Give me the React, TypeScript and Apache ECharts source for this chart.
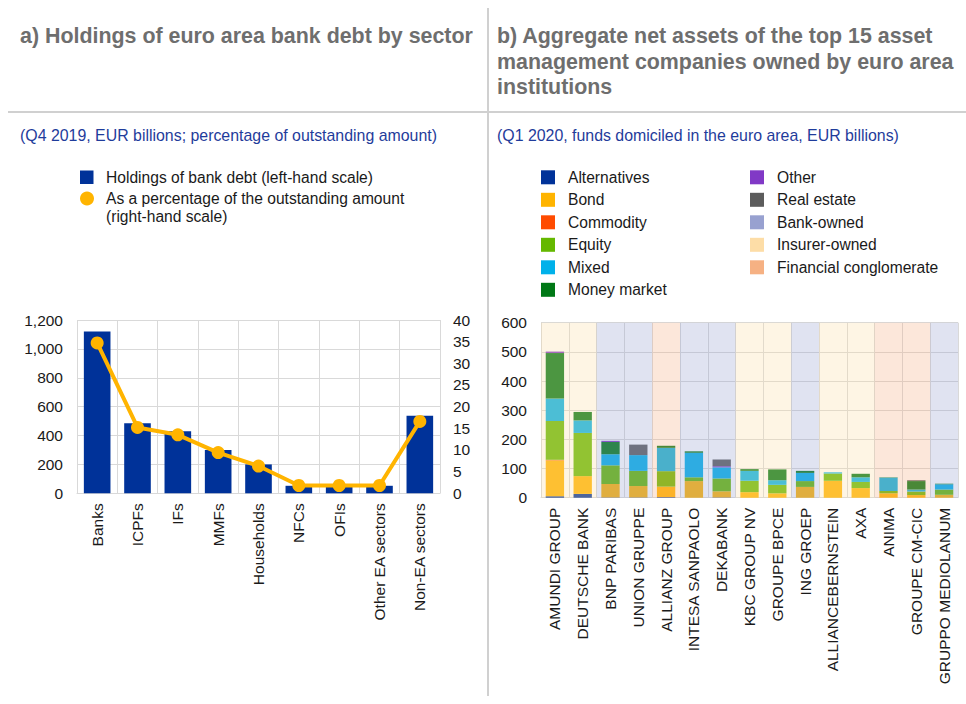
import React, { useEffect, useRef } from 'react';
import * as echarts from 'echarts';

const FONT = 'Liberation Sans, Arial, Helvetica, sans-serif';

// ---- Chart a) ----
const sectors = ['Banks', 'ICPFs', 'IFs', 'MMFs', 'Households', 'NFCs', 'OFIs', 'Other EA sectors', 'Non-EA sectors'];
const holdings = [1120, 485, 430, 300, 200, 52, 45, 52, 537];
const holdingsPct = [34.7, 15.2, 13.5, 9.4, 6.3, 1.8, 1.8, 1.8, 16.6];
const leftAxisMax = 1200;
const leftAxisStep = 200;
const pctAxisMax = 40;
const pctAxisStep = 5;

// ---- Chart b) ----
const companies = [
  'AMUNDI GROUP', 'DEUTSCHE BANK', 'BNP PARIBAS', 'UNION GRUPPE', 'ALLIANZ GROUP',
  'INTESA SANPAOLO', 'DEKABANK', 'KBC GROUP NV', 'GROUPE BPCE', 'ING GROEP',
  'ALLIANCEBERNSTEIN', 'AXA', 'ANIMA', 'GROUPE CM-CIC', 'GRUPPO MEDIOLANUM',
];
const alternatives = [5, 13, 1, 1, 2, 0, 1, 0, 0, 0, 0, 0, 0, 0, 0];
const bond = [123, 61, 46, 39, 36, 57, 21, 19, 15, 37, 58, 33, 15, 9, 10];
const commodity = [2, 0, 0, 0, 0, 0, 0, 0, 0, 0, 0, 0, 0, 0, 0];
const equity = [133, 148, 64, 52, 53, 13, 44, 39, 29, 20, 25, 21, 8, 12, 18];
const mixed = [77, 43, 38, 54, 80, 84, 38, 34, 16, 28, 4, 16, 46, 7, 18];
const moneyMarket = [156, 29, 42, 0, 7, 5, 0, 6, 37, 7, 0, 12, 1, 29, 2];
const other = [5, 0, 4, 0, 0, 0, 4, 0, 0, 0, 0, 0, 0, 0, 0];
const realEstate = [0, 0, 0, 36, 0, 0, 23, 0, 0, 0, 0, 0, 0, 3, 0];
const owner = [
  'Insurer-owned', 'Insurer-owned', 'Bank-owned', 'Bank-owned', 'Financial conglomerate',
  'Bank-owned', 'Bank-owned', 'Insurer-owned', 'Insurer-owned', 'Bank-owned',
  'Insurer-owned', 'Insurer-owned', 'Financial conglomerate', 'Financial conglomerate', 'Bank-owned',
];
const rightAxisMax = 600;
const rightAxisStep = 100;

const fundTypes = [
  { name: 'Alternatives', data: alternatives, color: '#003299' },
  { name: 'Bond', data: bond, color: '#FFB400' },
  { name: 'Commodity', data: commodity, color: '#FF4B00' },
  { name: 'Equity', data: equity, color: '#65B800' },
  { name: 'Mixed', data: mixed, color: '#00B1EA' },
  { name: 'Money market', data: moneyMarket, color: '#007816' },
  { name: 'Other', data: other, color: '#8139C6' },
  { name: 'Real estate', data: realEstate, color: '#5C5C5C' },
];
const ownerTypes = [
  { name: 'Bank-owned', color: '#98A1D0' },
  { name: 'Insurer-owned', color: '#FDDDA7' },
  { name: 'Financial conglomerate', color: '#F6B183' },
];

const GRID = '#D9D9D9';
const TXT = '#1a1a1a';

function txt(text: string, x: number, y: number, size: number, fill: string, weight = 'normal') {
  return {
    type: 'text',
    x,
    y,
    silent: true,
    style: { text, fill, fontSize: size, fontWeight: weight, fontFamily: FONT, verticalAlign: 'middle', align: 'left' },
  };
}

function buildOption() {
  const graphic: any[] = [];
  // dividers
  graphic.push({ type: 'line', silent: true, shape: { x1: 488, y1: 8, x2: 488, y2: 696 }, style: { stroke: '#D0D0D0', lineWidth: 2 } });
  graphic.push({ type: 'line', silent: true, shape: { x1: 8, y1: 112, x2: 966, y2: 112 }, style: { stroke: '#D0D0D0', lineWidth: 2 } });
  // titles
  graphic.push(txt('a) Holdings of euro area bank debt by sector', 20, 36, 21.4, '#6E6E6E', 'bold'));
  graphic.push(txt('b) Aggregate net assets of the top 15 asset', 497, 36, 21.4, '#6E6E6E', 'bold'));
  graphic.push(txt('management companies owned by euro area', 497, 62, 21.4, '#6E6E6E', 'bold'));
  graphic.push(txt('institutions', 497, 87, 21.4, '#6E6E6E', 'bold'));
  graphic.push(txt('(Q4 2019, EUR billions; percentage of outstanding amount)', 20, 135, 15.9, '#1F3C9B'));
  graphic.push(txt('(Q1 2020, funds domiciled in the euro area, EUR billions)', 497, 135, 15.9, '#1F3C9B'));
  // left legend
  graphic.push({ type: 'rect', silent: true, shape: { x: 80, y: 170.5, width: 13.5, height: 13.5 }, style: { fill: '#003299' } });
  graphic.push(txt('Holdings of bank debt (left-hand scale)', 106, 177.5, 15.6, TXT));
  graphic.push({ type: 'circle', silent: true, shape: { cx: 87, cy: 198.5, r: 7 }, style: { fill: '#FFB400' } });
  graphic.push(txt('As a percentage of the outstanding amount', 106, 198.5, 15.6, TXT));
  graphic.push(txt('(right-hand scale)', 106, 216.5, 15.6, TXT));
  // right legend
  const col1 = fundTypes.slice(0, 6).map((f) => ({ name: f.name, color: f.color }));
  const col2 = [
    ...fundTypes.slice(6).map((f) => ({ name: f.name, color: f.color })),
    ...ownerTypes.map((o) => ({ name: o.name, color: o.color })),
  ];
  const rowY = (i: number) => 177.3 + i * 22.5;
  col1.forEach((it, i) => {
    graphic.push({ type: 'rect', silent: true, shape: { x: 541, y: rowY(i) - 7, width: 14, height: 14 }, style: { fill: it.color } });
    graphic.push(txt(it.name, 568, rowY(i), 15.6, TXT));
  });
  col2.forEach((it, i) => {
    graphic.push({ type: 'rect', silent: true, shape: { x: 750, y: rowY(i) - 7, width: 14, height: 14 }, style: { fill: it.color } });
    graphic.push(txt(it.name, 777, rowY(i), 15.6, TXT));
  });

  const axisLabel = { color: TXT, fontSize: 15.5, fontFamily: FONT };

  const series: any[] = [
    {
      type: 'bar',
      name: 'Holdings of bank debt (left-hand scale)',
      xAxisIndex: 0,
      yAxisIndex: 0,
      data: holdings,
      barWidth: '66%',
      itemStyle: { color: '#003299' },
      z: 2,
    },
    {
      type: 'line',
      name: 'As a percentage of the outstanding amount (right-hand scale)',
      xAxisIndex: 0,
      yAxisIndex: 1,
      data: holdingsPct,
      symbol: 'circle',
      symbolSize: 13,
      lineStyle: { color: '#FFB400', width: 4 },
      itemStyle: { color: '#FFB400' },
      z: 3,
    },
    ...fundTypes.map((f) => ({
      type: 'bar',
      name: f.name,
      stack: 'funds',
      xAxisIndex: 1,
      yAxisIndex: 2,
      data: f.data,
      barWidth: '66%',
      itemStyle: { color: f.color },
      z: 2,
    })),
    ...ownerTypes.map((o) => ({
      type: 'custom',
      name: o.name,
      xAxisIndex: 1,
      yAxisIndex: 2,
      z: 6,
      silent: true,
      encode: { x: 0, y: 1 },
      data: companies.map((c, i) => (owner[i] === o.name ? [i, rightAxisMax] : null)).filter((d) => d !== null),
      renderItem: (params: any, api: any) => {
        const idx = api.value(0);
        const top = api.coord([idx, api.value(1)]);
        const bottom = api.coord([idx, 0]);
        const w = api.size([1, 0])[0];
        return {
          type: 'rect',
          shape: { x: top[0] - w / 2, y: top[1], width: w, height: bottom[1] - top[1] },
          style: { fill: o.color, opacity: 0.3 },
        };
      },
    })),
  ];

  return {
    animation: false,
    backgroundColor: '#ffffff',
    textStyle: { fontFamily: FONT },
    graphic,
    grid: [
      { left: 77, top: 320, width: 363, height: 173.3, containLabel: false },
      { left: 541, top: 322.7, width: 417, height: 175, containLabel: false },
    ],
    xAxis: [
      {
        type: 'category',
        gridIndex: 0,
        data: sectors,
        axisTick: { show: false },
        axisLine: { lineStyle: { color: GRID, width: 1 } },
        splitLine: { show: true, interval: 0, lineStyle: { color: GRID } },
        axisLabel: { ...axisLabel, rotate: 90, margin: 10, interval: 0 },
      },
      {
        type: 'category',
        gridIndex: 1,
        data: companies,
        axisTick: { show: false },
        axisLine: { lineStyle: { color: GRID, width: 1 } },
        splitLine: { show: true, interval: 0, lineStyle: { color: GRID } },
        axisLabel: { ...axisLabel, rotate: 90, margin: 10, interval: 0 },
      },
    ],
    yAxis: [
      {
        type: 'value',
        gridIndex: 0,
        min: 0,
        max: leftAxisMax,
        interval: leftAxisStep,
        axisLine: { show: false },
        axisTick: { show: false },
        splitLine: { lineStyle: { color: GRID } },
        axisLabel: { ...axisLabel, margin: 14, formatter: (v: number) => v.toLocaleString('en-US') },
      },
      {
        type: 'value',
        gridIndex: 0,
        position: 'right',
        min: 0,
        max: pctAxisMax,
        interval: pctAxisStep,
        axisLine: { show: false },
        axisTick: { show: false },
        splitLine: { show: false },
        axisLabel: { ...axisLabel, margin: 13 },
      },
      {
        type: 'value',
        gridIndex: 1,
        min: 0,
        max: rightAxisMax,
        interval: rightAxisStep,
        axisLine: { show: false },
        axisTick: { show: false },
        splitLine: { lineStyle: { color: GRID } },
        axisLabel: { ...axisLabel, margin: 14 },
      },
    ],
    series,
  };
}

export default function App() {
  const ref = useRef<HTMLDivElement>(null);
  useEffect(() => {
    if (!ref.current) return;
    const chart = echarts.init(ref.current, undefined, { renderer: 'svg' });
    chart.setOption(buildOption() as any);
    return () => chart.dispose();
  }, []);
  return (
    <div
      ref={ref}
      style={{ position: 'absolute', left: 0, top: 0, width: 966, height: 704, background: '#fff' }}
    />
  );
}
